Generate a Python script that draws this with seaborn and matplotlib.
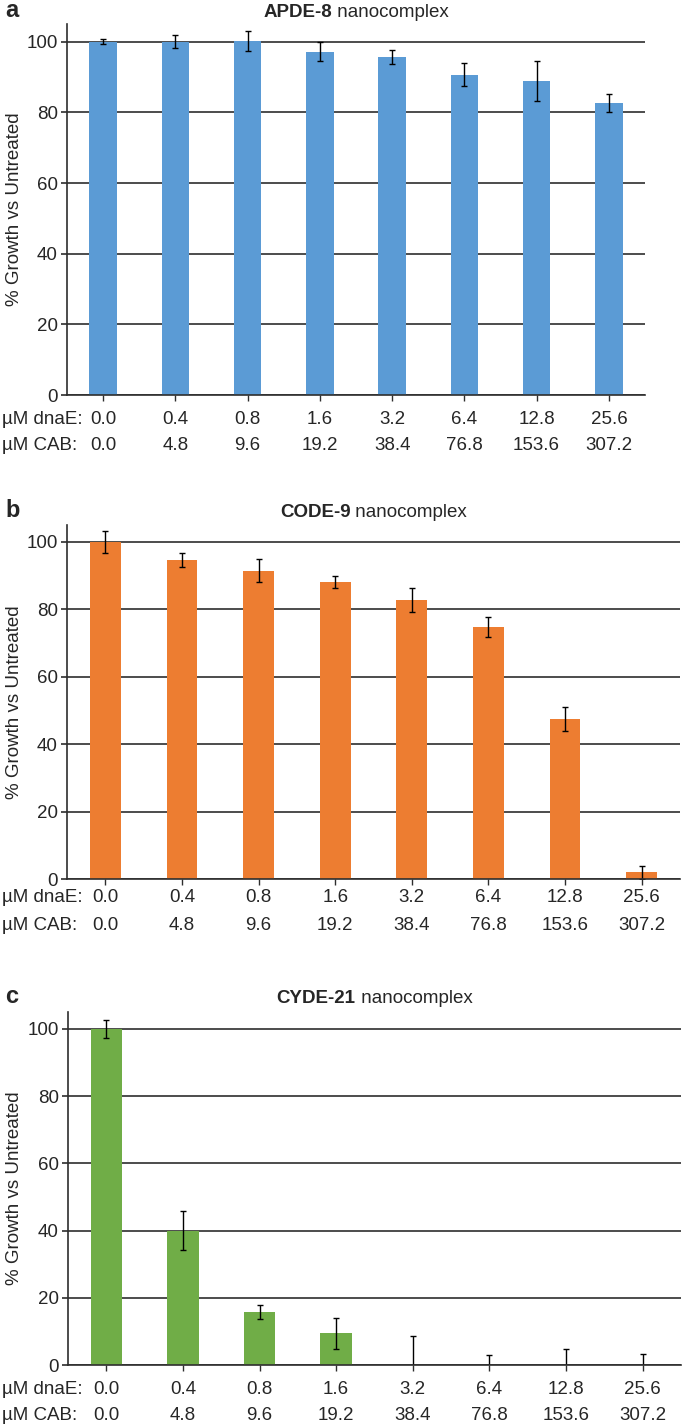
import matplotlib
matplotlib.use("Agg")
import matplotlib.pyplot as plt
import seaborn as sns
import pandas as pd

# concentrations (x categories)
dnae = ["0.0", "0.4", "0.8", "1.6", "3.2", "6.4", "12.8", "25.6"]
cab = ["0.0", "4.8", "9.6", "19.2", "38.4", "76.8", "153.6", "307.2"]

# % growth vs untreated, mean and error
apde_mean = [100.0, 100.0, 100.2, 97.1, 95.7, 90.7, 88.8, 82.7]
apde_err = [0.8, 1.8, 2.8, 2.7, 1.9, 3.2, 5.6, 2.5]
code_mean = [100.0, 94.6, 91.4, 88.2, 82.8, 74.7, 47.5, 2.0]
code_err = [3.3, 2.2, 3.4, 1.8, 3.5, 2.9, 3.5, 2.0]
cyde_mean = [100.0, 40.0, 15.7, 9.4, 0.0, 0.0, 0.0, 0.0]
cyde_err = [2.6, 5.8, 2.1, 4.7, 8.7, 3.0, 4.7, 3.4]

sns.set_style("white")
plt.rcParams["font.family"] = ["Liberation Sans", "DejaVu Sans"]

W, H = 685, 1427
fig = plt.figure(figsize=(W / 100, H / 100), dpi=100)

# panel settings: (letter, bold name, mean, err, colour, bar width,
#                  left px, right px, top px, zero px, label offsets px, title baseline px)
panels = [
    ("a", "APDE-8", apde_mean, apde_err, "#5B9BD5", 0.38, 67, 645, 24, 395, (24, 51), 17),
    ("b", "CODE-9", code_mean, code_err, "#ED7D31", 0.40, 67, 680, 525, 879, (19, 47), 517),
    ("c", "CYDE-21", cyde_mean, cyde_err, "#70AD47", 0.41, 68, 681, 1012, 1365, (24, 50), 1003),
]

px2pt = 72 / 100
titles = []
for letter, name, mean, err, col, bw, lpx, rpx, tpx, zpx, offs, tbase in panels:
    ax = fig.add_axes([lpx / W, 1 - zpx / H, (rpx - lpx) / W, (zpx - tpx) / H])
    df = pd.DataFrame({"dnaE": dnae, "growth": mean})
    sns.barplot(data=df, x="dnaE", y="growth", color=col, saturation=1,
                width=bw, errorbar=None, linewidth=0, ax=ax)
    ax.errorbar(range(len(dnae)), mean, yerr=err, fmt="none", ecolor="black",
                elinewidth=1, capsize=2.2, capthick=1)

    ax.set_xlim(-0.5, len(dnae) - 0.5)
    ax.set_ylim(0, 105)
    ax.set_yticks([0, 20, 40, 60, 80, 100])
    ax.yaxis.grid(True, color="#2e2e2e", linewidth=1.2)
    ax.set_axisbelow(True)
    sns.despine(ax=ax)
    for s in ("left", "bottom"):
        ax.spines[s].set_color("#2e2e2e")
        ax.spines[s].set_linewidth(1.2)
    ax.tick_params(axis="y", left=True, length=4, width=1.2, color="#2e2e2e",
                   labelsize=13.5, pad=2.5)
    ax.tick_params(axis="x", bottom=True, length=4, width=1, color="#2e2e2e",
                   labelbottom=False)
    ax.set_xlabel("")
    ax.set_ylabel("% Growth vs Untreated", fontsize=13.5)
    # anchor is the right-hand side of the rotated label
    ax.yaxis.set_label_coords((23 - lpx) / (rpx - lpx), 0.5)

    # two rows of concentration labels under the axis
    for row, (lab, vals) in enumerate([("µM dnaE:", dnae), ("µM CAB:", cab)]):
        dy = -offs[row] * px2pt
        for i, v in enumerate(vals):
            ax.annotate(v, xy=(i, 0), xycoords=("data", "axes fraction"),
                        xytext=(0, dy), textcoords="offset points",
                        ha="center", va="center", fontsize=13.5)
        ax.annotate(lab, xy=(2 / W, 0), xycoords=("figure fraction", "axes fraction"),
                    xytext=(0, dy), textcoords="offset points",
                    ha="left", va="center", fontsize=13.5)

    # panel letter
    fig.text(5 / W, 1 - tbase / H, letter, fontsize=17, fontweight="bold",
             ha="left", va="baseline")
    # title: bold name + normal word, centred over the axes
    cx = (lpx + rpx) / 2
    t1 = fig.text(cx / W, 1 - tbase / H, name, fontsize=13.5, fontweight="bold",
                  ha="left", va="baseline")
    t2 = fig.text(cx / W, 1 - tbase / H, " nanocomplex", fontsize=13.5,
                  ha="left", va="baseline")
    titles.append((t1, t2, cx))

fig.canvas.draw()
r = fig.canvas.get_renderer()
for t1, t2, cx in titles:
    w1 = t1.get_window_extent(r).width
    w2 = t2.get_window_extent(r).width
    x0 = cx - (w1 + w2) / 2
    t1.set_x(x0 / W)
    t2.set_x((x0 + w1) / W)

fig.savefig("out.png", dpi=100)
